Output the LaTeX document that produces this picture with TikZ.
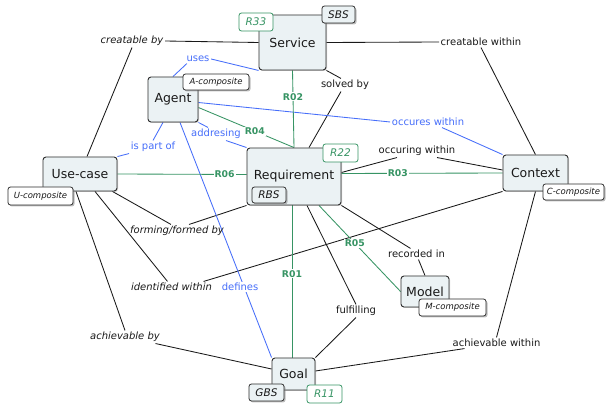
\documentclass[tikz,border=0pt]{standalone}
\usepackage{fontspec}
\setmainfont{DejaVu Sans}
\usetikzlibrary{shadows,calc}
\definecolor{boxfill}{RGB}{235,242,244}
\definecolor{rgreen}{RGB}{55,148,100}
\definecolor{rblue}{RGB}{70,110,250}
\definecolor{edge}{RGB}{45,45,45}
\definecolor{txt}{RGB}{25,25,25}
\pgfdeclarelayer{bg}
\pgfsetlayers{bg,main}
\begin{document}
\begin{tikzpicture}[x=1pt,y=-1pt,
  concept/.style={draw=edge, line width=0.9pt, fill=boxfill, rounded corners=3pt, inner sep=0pt,
    text=txt, font=\fontsize{12.5}{14}\selectfont,
    drop shadow={shadow xshift=1pt, shadow yshift=-1pt, opacity=0.35}},
  tagw/.style={draw=edge, line width=0.8pt, fill=white, rounded corners=2.5pt, inner sep=0pt,
    text=txt, font=\fontsize{8.5}{10}\selectfont\itshape,
    drop shadow={shadow xshift=1.5pt, shadow yshift=-1.5pt, opacity=0.5}},
  tagb/.style={tagw, fill=boxfill, font=\fontsize{10.5}{12}\selectfont\itshape},
  tagr/.style={draw=rgreen, line width=0.8pt, fill=white, rounded corners=2.5pt, inner sep=0pt,
    text=rgreen, font=\fontsize{10.5}{12}\selectfont\itshape},
  lbl/.style={font=\fontsize{10}{11}\selectfont, inner sep=1.5pt, text=txt},
  lbli/.style={lbl, font=\fontsize{10}{11}\selectfont\itshape},
  lblb/.style={lbl, text=rblue},
  rlbl/.style={font=\fontsize{9.3}{10}\selectfont\bfseries, text=rgreen, fill=white, inner sep=1pt},
  conn/.style={draw=txt, line width=0.85pt},
  bconn/.style={draw=rblue, line width=0.85pt},
  gconn/.style={draw=rgreen, line width=0.85pt}
]
\useasboundingbox (0,0) rectangle (606,406);
\begin{pgfonlayer}{bg}
\fill[white] (0,0) rectangle (606,406);
\end{pgfonlayer}

% concept boxes
\node[concept, minimum width=67, minimum height=55] (service) at (292.5,42.5) {Service};
\node[concept, minimum width=50, minimum height=45] (agent) at (173,99.5) {Agent};
\node[concept, minimum width=74, minimum height=34] (usecase) at (80,174) {Use-case};
\node[concept, minimum width=94, minimum height=57] (requirement) at (294,176.5) {Requirement};
\node[concept, minimum width=65, minimum height=36] (context) at (535.5,173) {Context};
\node[concept, minimum width=48, minimum height=31] (model) at (425,291.5) {Model};
\node[concept, minimum width=43, minimum height=32] (goal) at (293.5,374) {Goal};

% tags
\node[tagb, minimum width=33, minimum height=17] (sbs) at (338.5,14.5) {SBS};
\node[tagr, minimum width=34, minimum height=18] (r33) at (256,22) {R33};
\node[tagw, minimum width=66, minimum height=16] (acomp) at (216,82) {A-composite};
\node[tagw, minimum width=65, minimum height=18] (ucomp) at (40.5,196) {U-composite};
\node[tagb, minimum width=34, minimum height=16] (rbs) at (269,195) {RBS};
\node[tagr, minimum width=35, minimum height=18] (r22) at (340.5,153) {R22};
\node[tagw, minimum width=61, minimum height=16] (ccomp) at (573.5,192) {C-composite};
\node[tagw, minimum width=67, minimum height=17] (mcomp) at (452.5,307.5) {M-composite};
\node[tagb, minimum width=35, minimum height=17] (gbs) at (266.5,392.5) {GBS};
\node[tagr, minimum width=35, minimum height=18] (r11) at (324.5,394) {R11};

% relation labels
\node[lbli] (lcby) at (132,41) {creatable by};
\node[lbl] (lcw) at (481,42) {creatable within};
\node[lbl] (lsb) at (345,85) {solved by};
\node[lblb] (luses) at (198,59) {uses};
\node[lblb] (lipo) at (153,147) {is part of};
\node[lblb] (ladd) at (216,134) {addresing};
\node[lblb] (low) at (428,122) {occures within};
\node[lbl] (locw) at (417,151) {occuring within};
\node[lbli] (lff) at (177,231) {forming/formed by};
\node[lbli] (liw) at (171.5,287) {identified within};
\node[lbli] (lab) at (125,337) {achievable by};
\node[lblb, fill=white, inner sep=1pt] (ldef) at (240,287) {defines};
\node[lbl] (lri) at (416.5,254) {recorded in};
\node[lbl] (lful) at (356,311) {fulfilling};
\node[lbl] (law) at (496.5,343) {achievable within};

\begin{pgfonlayer}{bg}
% black relations
\draw[conn] (service.west) -- (lcby.east);
\draw[conn] (lcby.south) -- ([xshift=7pt]usecase.north);
\draw[conn] (service.east) -- (lcw.west);
\draw[conn] (lcw.south) -- (context.north);
\draw[conn] (service.south east) -- ([xshift=-4pt]lsb.north);
\draw[conn] ([xshift=-4pt]lsb.south) -- ([xshift=15pt]requirement.north);
\draw[conn] ([yshift=4pt]requirement.east) -- ([xshift=-20pt]locw.south);
\draw[conn] ([xshift=20pt]locw.south) -- ([yshift=3pt]context.west);
\draw[conn] ([xshift=-5pt]usecase.south east) -- ([xshift=-6pt]lff.north);
\draw[conn] ([xshift=12pt]lff.north) -- (requirement.south west);
\draw[conn] ([xshift=15pt]usecase.south) -- ([xshift=-4pt]liw.north);
\draw[conn] ([xshift=-10pt]liw.north east) -- (context.south west);
\draw[conn] ([xshift=-4pt]usecase.south) -- (lab.north);
\draw[conn] ([xshift=-6pt]lab.south east) -- ([yshift=5pt]goal.west);
\draw[conn] (requirement.south east) -- ([xshift=-6pt]lri.north);
\draw[conn] ([xshift=2pt]lri.south) -- (model.north);
\draw[conn] ([xshift=13pt]requirement.south) -- (lful.north);
\draw[conn] (lful.south) -- (goal.north east);
\draw[conn] (context.south) -- (law.north);
\draw[conn] ([xshift=-32pt]law.south) -- ([yshift=3pt]goal.east);
% blue relations
\draw[bconn] (agent.north) -- ([xshift=2pt]luses.south west);
\draw[bconn] (luses.east) -- (service.south west);
\draw[bconn] ([xshift=-10pt]agent.south) -- (lipo.north);
\draw[bconn] (lipo.south west) -- (usecase.north east);
\draw[bconn] (agent.south east) -- ([xshift=-8pt]ladd.north);
\draw[bconn] ([xshift=10pt]ladd.south) -- (requirement.north west);
\draw[bconn] ([yshift=-3pt]agent.east) -- (low.west);
\draw[bconn] ([xshift=14pt]low.south) -- (context.north west);
\draw[bconn] ([xshift=7pt]agent.south) -- (goal.north west);
% green relations
\draw[gconn] (service.south) -- node[rlbl, pos=0.34] (r02) {R02} (requirement.north);
\draw[gconn] ([yshift=-8pt]agent.east) -- node[rlbl, pos=0.59] (r04) {R04} (requirement.north);
\draw[gconn] (usecase.east) -- node[rlbl, pos=0.83] (r06) {R06} ([yshift=2pt]requirement.west);
\draw[gconn] ([yshift=3pt]requirement.east) -- node[rlbl, pos=0.35] (r03) {R03} (context.west);
\draw[gconn] ([xshift=25pt]requirement.south) -- node[rlbl, pos=0.44] (r05) {R05} (model.west);
\draw[gconn] ([xshift=-2pt]requirement.south) -- node[rlbl, pos=0.45] (r01) {R01} ([xshift=-1.5pt]goal.north);
\end{pgfonlayer}
\end{tikzpicture}
\end{document}
